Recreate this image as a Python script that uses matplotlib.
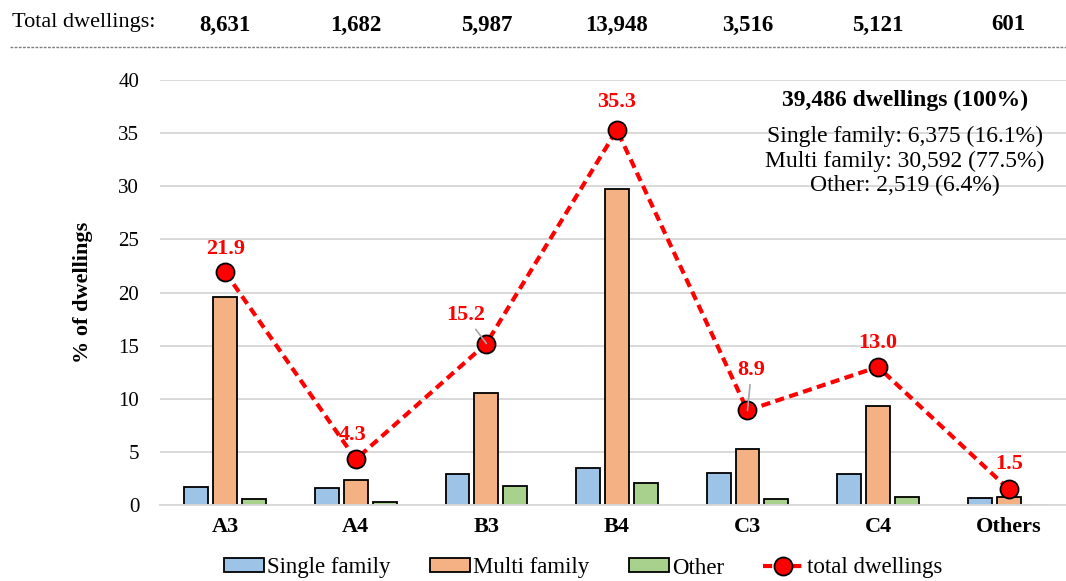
import numpy as np
import matplotlib
matplotlib.use("Agg")
import matplotlib.pyplot as plt
import matplotlib.transforms as mtransforms

plt.rcParams['font.family'] = ['Liberation Serif', 'DejaVu Serif']

# === Data ===
zones = ['A3', 'A4', 'B3', 'B4', 'C3', 'C4', 'Others']
total_counts = ['8,631', '1,682', '5,987', '13,948', '3,516', '5,121', '601']
single_family = [1.7, 1.6, 2.9, 3.5, 3.0, 2.9, 0.7]
multi_family = [19.6, 2.4, 10.5, 29.7, 5.3, 9.3, 0.8]
other = [0.6, 0.3, 1.8, 2.1, 0.6, 0.8, 0.0]
total_pct = [21.9, 4.3, 15.2, 35.3, 8.9, 13.0, 1.5]

summary_title = "39,486 dwellings (100%)"
summary_lines = "Single family: 6,375 (16.1%)\nMulti family: 30,592 (77.5%)\nOther: 2,519 (6.4%)"

# label offsets in pixels (dx, dy) and whether a leader line is drawn
label_offsets = [(0, 23), (-3, 24), (-21, 28), (0, 28), (4, 40), (0, 24), (1, 25)]
leaders = [False, False, True, False, True, False, False]

# === Figure ===
W, H = 1066, 581
fig = plt.figure(figsize=(W / 100, H / 100), dpi=100)
ax = fig.add_axes([160 / W, 1 - 505 / H, 1 - 160 / W, (505 - 80) / H])

x = np.arange(len(zones))
step = 0.221
bw = 0.183
b1 = ax.bar(x - step, single_family, bw, color='#9DC3E6', edgecolor='black', lw=1.3,
            label='Single family', zorder=2)
b2 = ax.bar(x, multi_family, bw, color='#F4B183', edgecolor='black', lw=1.3,
            label='Multi family', zorder=2)
b3 = ax.bar(x + step, other, bw, color='#A9D18E', edgecolor='black', lw=1.3,
            label='Other', zorder=2)
ln, = ax.plot(x, total_pct, color='red', ls=(0, (2.2, 1.3)), lw=3, marker='o', ms=13,
              mfc='red', mec='black', mew=1.3, label='total dwellings', zorder=4)

for xi, v, (dx, dy), lead in zip(x, total_pct, label_offsets, leaders):
    ax.annotate(f"{v:.1f}", (xi, v), xytext=(dx * 0.72, dy * 0.72),
                textcoords='offset points', ha='center', va='center', color='red',
                fontweight='bold', fontsize=16, zorder=5,
                arrowprops=dict(arrowstyle='-', color='#a6a6a6', lw=1.2,
                                shrinkA=1, shrinkB=0) if lead else None)

ax.set_xlim(-0.5, 6.44)
ax.set_ylim(0, 40)
ax.set_yticks(range(0, 41, 5))
ax.set_xticks(x)
ax.set_xticklabels(zones, fontweight='bold', fontsize=16)
ax.tick_params(axis='y', labelsize=15, length=0, pad=15)
ax.tick_params(axis='x', length=0, pad=9)
ax.yaxis.grid(True, color='#d9d9d9', lw=1.4, zorder=0)
ax.set_axisbelow(True)
for s in ['top', 'right', 'left']:
    ax.spines[s].set_visible(False)
ax.spines['bottom'].set_color('#d9d9d9')
ax.spines['bottom'].set_linewidth(1.4)
ax.set_ylabel('% of dwellings', fontweight='bold', fontsize=16, labelpad=18)

# summary text
fig.text(905 / W, 1 - 100 / H, summary_title, ha='center', va='center',
         fontsize=17, fontweight='bold')
fig.text(905 / W, 1 - 161 / H, summary_lines, ha='center', va='center',
         fontsize=17, linespacing=1.2)

# header row with totals
trans = mtransforms.blended_transform_factory(ax.transData, fig.transFigure)
fig.text(12 / W, 1 - 22 / H, 'Total dwellings:', ha='left', va='center', fontsize=16)
for xi, t in zip(x, total_counts):
    ax.text(xi, 1 - 25 / H, t, transform=trans, ha='center', va='center',
            fontsize=16.5, fontweight='bold', clip_on=False)
fig.add_artist(plt.Line2D([10 / W, 1], [1 - 47 / H] * 2, transform=fig.transFigure,
                          color='#7f7f7f', lw=1, ls=(0, (2, 1))))

fig.legend([b1, b2, b3, ln], ['Single family', 'Multi family', 'Other', 'total dwellings'],
           loc='center', bbox_to_anchor=(583 / W, 1 - 568 / H), ncol=4,
           frameon=False, fontsize=16.5, handlelength=1.75, handleheight=0.55,
           handletextpad=0.15, columnspacing=1.7, borderaxespad=0)

fig.savefig('out.png', dpi=100)
